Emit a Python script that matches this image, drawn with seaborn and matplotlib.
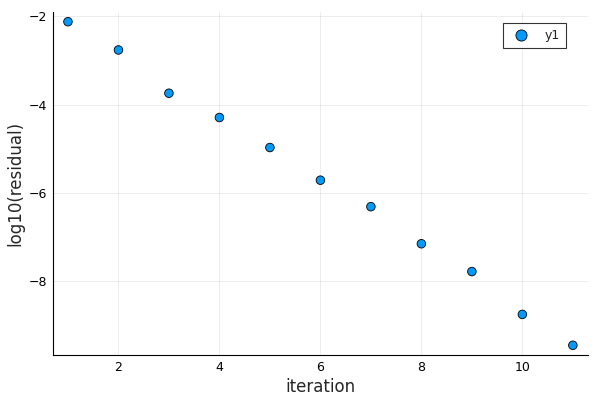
import pandas as pd
import seaborn as sns
import matplotlib
matplotlib.use("Agg")
import matplotlib.pyplot as plt

# values
iteration = [1, 2, 3, 4, 5, 6, 7, 8, 9, 10, 11]
log_residual = [-2.12, -2.76, -3.74, -4.29, -4.97, -5.71, -6.31, -7.15, -7.78, -8.75, -9.45]
series_name = "y1"

df = pd.DataFrame({"iteration": iteration, "log10(residual)": log_residual, "series": series_name})

sns.set_theme(style="white")
plt.rcParams["font.family"] = ["DejaVu Sans"]

fig = plt.figure(figsize=(6, 4), dpi=100)
ax = fig.add_axes([0.088, 0.1125, 0.892, 0.8575])

sns.scatterplot(data=df, x="iteration", y="log10(residual)", hue="series",
                palette=["#009AFA"], s=38, edgecolor="black", linewidth=0.6,
                ax=ax, zorder=3)

# 3% padding like Plots.jl
xr = max(iteration) - min(iteration)
yr = max(log_residual) - min(log_residual)
ax.set_xlim(min(iteration) - 0.03 * xr, max(iteration) + 0.03 * xr)
ax.set_ylim(min(log_residual) - 0.03 * yr, max(log_residual) + 0.03 * yr)

ax.set_xticks([2, 4, 6, 8, 10])
ax.set_yticks([-8, -6, -4, -2])
ax.grid(True, color="black", alpha=0.1, linewidth=0.5)
ax.tick_params(direction="in", length=3.5, width=0.8, labelsize=9, colors="black", pad=4)
for side in ["top", "right"]:
    ax.spines[side].set_visible(False)
for side in ["left", "bottom"]:
    ax.spines[side].set_color("black")
    ax.spines[side].set_linewidth(0.8)

ax.set_xlabel("iteration", fontsize=12, labelpad=3)
ax.set_ylabel("log10(residual)", fontsize=12, labelpad=3)

leg = ax.legend(loc="upper right", fancybox=False, edgecolor="black", fontsize=9,
                borderpad=0.45, handletextpad=0.9, markerscale=1.3,
                bbox_to_anchor=(0.97, 0.985))
leg.get_frame().set_linewidth(0.8)

fig.savefig("out.png", dpi=100)
